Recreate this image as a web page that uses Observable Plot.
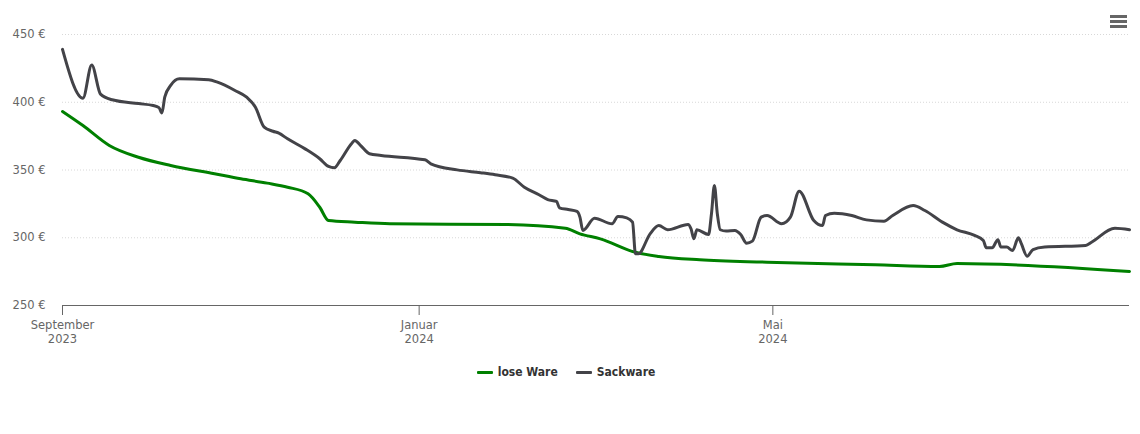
<!DOCTYPE html>
<html>
<head>
<meta charset="utf-8">
<script src="https://cdn.jsdelivr.net/npm/d3@7"></script>
<script src="https://cdn.jsdelivr.net/npm/@observablehq/plot@0.6"></script>
<style>
  body { margin: 0; background: #fff; font-family: "DejaVu Sans", Verdana, sans-serif; }
  #wrap { position: relative; width: 1140px; height: 434px; overflow: hidden; }
  #menu { position: absolute; left: 1109px; top: 14px; }
  #legend { position: absolute; top: 365px; left: -4px; width: 1140px; display: flex; justify-content: center; gap: 18px; font-family: "DejaVu Sans Condensed", "DejaVu Sans", sans-serif; font-size: 12px; font-weight: bold; color: #333; }
  .item { display: flex; align-items: center; gap: 5px; }
  .sw { display: inline-block; width: 16px; height: 3px; border-radius: 1px; }
</style>
</head>
<body>
<div id="wrap">
  <div id="chart"></div>
  <svg id="menu" width="20" height="16"><rect x="1" y="1" width="17" height="3" fill="#666"/><rect x="1" y="6" width="17" height="3" fill="#666"/><rect x="1" y="11" width="17" height="3" fill="#666"/></svg>
  <div id="legend"></div>
</div>
<script>
// Series names and colours
const seriesNames = ["lose Ware", "Sackware"];
const seriesColors = ["#008000", "#434348"];

// lose Ware
const loseDates = ["2023-09-01","2023-09-08","2023-09-17","2023-09-27","2023-10-08","2023-10-23","2023-11-01","2023-11-10","2023-11-17","2023-11-24","2023-11-28","2023-12-01","2023-12-10","2023-12-22","2024-01-31","2024-02-20","2024-02-25","2024-03-03","2024-03-15","2024-03-23","2024-04-06","2024-04-29","2024-06-05","2024-06-27","2024-07-03","2024-08-31"];
const loseValues = [393.2,382.8,368.1,359.4,353.3,347.2,343.5,340.3,337.3,332.4,322.5,312.7,311.5,310.3,309.8,307,302.9,299.2,289.3,286.2,283.7,282,280,278.8,281,275.1];

// Sackware
const sackDates = ["2023-09-01","2023-09-08","2023-09-11","2023-09-14","2023-09-18","2023-09-27","2023-10-02","2023-10-04","2023-10-05","2023-10-06","2023-10-08","2023-10-11","2023-10-21","2023-10-24","2023-10-30","2023-11-03","2023-11-06","2023-11-09","2023-11-12","2023-11-14","2023-11-17","2023-11-23","2023-11-28","2023-12-01","2023-12-03","2023-12-05","2023-12-09","2023-12-10","2023-12-12","2023-12-15","2023-12-19","2024-01-03","2024-01-05","2024-01-14","2024-01-22","2024-01-27","2024-02-02","2024-02-06","2024-02-11","2024-02-14","2024-02-17","2024-02-18","2024-02-21","2024-02-24","2024-02-25","2024-02-26","2024-03-01","2024-03-07","2024-03-09","2024-03-12","2024-03-14","2024-03-15","2024-03-16","2024-03-20","2024-03-23","2024-03-26","2024-04-02","2024-04-03","2024-04-04","2024-04-05","2024-04-09","2024-04-10","2024-04-11","2024-04-12","2024-04-13","2024-04-15","2024-04-18","2024-04-20","2024-04-22","2024-04-24","2024-04-27","2024-04-29","2024-05-04","2024-05-07","2024-05-10","2024-05-15","2024-05-18","2024-05-19","2024-05-22","2024-05-28","2024-06-02","2024-06-08","2024-06-11","2024-06-18","2024-06-22","2024-06-28","2024-07-03","2024-07-09","2024-07-12","2024-07-13","2024-07-15","2024-07-17","2024-07-18","2024-07-20","2024-07-22","2024-07-24","2024-07-25","2024-07-27","2024-07-29","2024-08-02","2024-08-16","2024-08-18","2024-08-26","2024-08-31"];
const sackValues = [439,403,427.5,406,401.8,399,397.6,396,392,404,412.4,417.3,416.6,414.8,408.7,403.7,396.3,381.6,378.6,377.2,373,365.6,358.3,352.6,351.6,357,369.8,371.8,368,362,360.7,357.5,354.6,350.1,348,346.5,344,337.3,331.7,328.2,326.8,322.1,320.8,319.4,315.2,305.4,314.4,310.3,315.7,314.7,311.5,288.2,288.2,302.9,309,305.9,309.8,306.6,299.2,305.9,302.4,317.7,338.6,317.7,305.9,304.9,305.4,302.4,296,297.5,315.2,316.4,310.3,315.2,334.4,312.7,309,316.4,318.1,316.4,313.2,312.2,316.4,323.8,320.1,311.5,305.9,301.7,298,292.6,292.6,298.5,293.1,293.1,290.6,300,295.6,286.4,291.3,293.1,294.3,296.7,307,305.9];

// Axis ticks
const yTicks = [250, 300, 350, 400, 450];
const xTickDates = ["2023-09-01", "2024-01-01", "2024-05-01"];
const xTickLabels = ["September\n2023", "Januar\n2024", "Mai\n2024"];
const xDomain = ["2023-09-01", "2024-08-31"];

const parse = d3.utcParse("%Y-%m-%d");
const loseData = loseDates.map((d, i) => ({date: parse(d), value: loseValues[i]}));
const sackData = sackDates.map((d, i) => ({date: parse(d), value: sackValues[i]}));
const xTicks = xTickDates.map(parse);
const labelOf = new Map(xTicks.map((d, i) => [+d, xTickLabels[i]]));

const chart = Plot.plot({
  width: 1140,
  height: 345,
  marginTop: 34,
  marginBottom: 40,
  marginLeft: 62,
  marginRight: 11,
  style: {fontFamily: "'DejaVu Sans', Verdana, sans-serif", background: "#fff"},
  x: {type: "utc", domain: xDomain.map(parse)},
  y: {domain: [250, 450]},
  marks: [
    Plot.gridY(yTicks.slice(1), {stroke: "#d8d8d8", strokeOpacity: 1, strokeDasharray: "1,2"}),
    Plot.axisY({ticks: yTicks, tickSize: 0, tickPadding: 17, tickFormat: d => d + " €", fontSize: 11.5, color: "#666", label: null}),
    Plot.ruleY([250], {stroke: "#666", strokeWidth: 1}),
    Plot.axisX({ticks: xTicks, tickSize: 10, tickPadding: 3, tickFormat: d => labelOf.get(+d), fontSize: 11.5, lineHeight: 1.25, color: "#666", label: null}),
    Plot.line(loseData, {x: "date", y: "value", stroke: seriesColors[0], strokeWidth: 3, curve: "monotone-x"}),
    Plot.line(sackData, {x: "date", y: "value", stroke: seriesColors[1], strokeWidth: 3, curve: "monotone-x"})
  ]
});
document.getElementById("chart").appendChild(chart);

const legend = document.getElementById("legend");
seriesNames.forEach((n, i) => {
  const it = document.createElement("div");
  it.className = "item";
  it.innerHTML = `<span class="sw" style="background:${seriesColors[i]}"></span><span>${n}</span>`;
  legend.appendChild(it);
});
</script>
</body>
</html>
